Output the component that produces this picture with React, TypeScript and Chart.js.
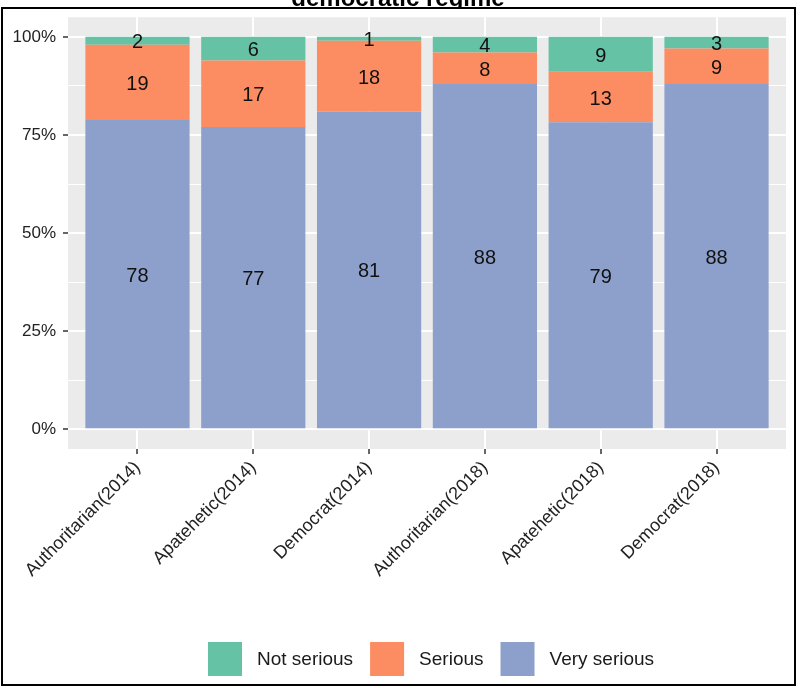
import { useEffect, useRef } from 'react';
import { Chart, registerables } from 'chart.js';

Chart.register(...registerables);

const categories = [
	'Authoritarian(2014)',
	'Apatehetic(2014)',
	'Democrat(2014)',
	'Authoritarian(2018)',
	'Apatehetic(2018)',
	'Democrat(2018)'
];
const verySerious = [78, 77, 81, 88, 79, 88];
const serious = [19, 17, 18, 8, 13, 9];
const notSerious = [2, 6, 1, 4, 9, 3];
const yTicks = [0, 12.5, 25, 37.5, 50, 62.5, 75, 87.5, 100];
const xTicks = [1, 2, 3, 4, 5, 6];
const titleText = 'democratic regime';

const GREEN = '#66C2A5';
const ORANGE = '#FC8D62';
const BLUE = '#8DA0CB';
const FONT = '"Liberation Sans", Arial, sans-serif';

const totals = categories.map((_, i) => verySerious[i] + serious[i] + notSerious[i]);
// share of each bar (position = "fill")
const share = (arr: number[]) => arr.map((v, i) => ({ x: i + 1, y: (v / totals[i]) * 100, raw: v }));

const legendItems = [
	{ label: 'Not serious', color: GREEN },
	{ label: 'Serious', color: ORANGE },
	{ label: 'Very serious', color: BLUE }
];

const decorPlugin = {
	id: 'decor',
	beforeDraw(chart: any) {
		const { ctx, chartArea: a, width, height } = chart;
		ctx.save();
		ctx.fillStyle = '#ffffff';
		ctx.fillRect(0, 0, width, height);
		ctx.fillStyle = '#EBEBEB';
		ctx.fillRect(a.left, a.top, a.right - a.left, a.bottom - a.top);
		ctx.restore();
	},
	afterDatasetsDraw(chart: any) {
		const { ctx } = chart;
		ctx.save();
		ctx.font = `20px ${FONT}`;
		ctx.fillStyle = '#111111';
		ctx.textAlign = 'center';
		ctx.textBaseline = 'middle';
		chart.data.datasets.forEach((ds: any, di: number) => {
			const meta = chart.getDatasetMeta(di);
			meta.data.forEach((el: any, i: number) => {
				const yc = (el.y + el.base) / 2;
				ctx.fillText(String(ds.data[i].raw), el.x, yc + 2);
			});
		});
		ctx.restore();
	},
	afterDraw(chart: any) {
		const { ctx } = chart;
		ctx.save();
		// legend
		ctx.font = `19px ${FONT}`;
		ctx.textBaseline = 'middle';
		ctx.textAlign = 'left';
		let x = 208;
		const top = 642;
		const key = 34;
		legendItems.forEach((it) => {
			ctx.fillStyle = it.color;
			ctx.fillRect(x, top, key, key);
			x += key + 15;
			ctx.fillStyle = '#1a1a1a';
			ctx.fillText(it.label, x, top + key / 2 + 1);
			x += ctx.measureText(it.label).width + 17;
		});
		// title, cut at the top
		ctx.save();
		ctx.beginPath();
		ctx.rect(0, 0, chart.width, 7);
		ctx.clip();
		ctx.font = `bold 24px ${FONT}`;
		ctx.textAlign = 'center';
		ctx.textBaseline = 'alphabetic';
		ctx.fillStyle = '#000';
		ctx.fillText(titleText, 398, 5.5);
		ctx.restore();
		// frame
		ctx.strokeStyle = '#000';
		ctx.lineWidth = 2;
		ctx.strokeRect(2, 8, 793, 677);
		ctx.restore();
	}
};

export default function App() {
	const canvasRef = useRef<HTMLCanvasElement | null>(null);
	const chartRef = useRef<Chart | null>(null);

	useEffect(() => {
		document.body.style.margin = '0';
		if (!canvasRef.current) return;
		if (chartRef.current) chartRef.current.destroy();

		chartRef.current = new Chart(canvasRef.current, {
			type: 'bar',
			data: {
				datasets: [
					{ label: 'Very serious', data: share(verySerious), backgroundColor: BLUE },
					{ label: 'Serious', data: share(serious), backgroundColor: ORANGE },
					{ label: 'Not serious', data: share(notSerious), backgroundColor: GREEN }
				] as any
			},
			options: {
				responsive: true,
				maintainAspectRatio: false,
				animation: false,
				layout: { padding: { left: 0, top: 17, right: 14, bottom: 0 } },
				datasets: { bar: { barPercentage: 0.9, categoryPercentage: 1 } },
				plugins: {
					legend: { display: false },
					tooltip: { enabled: false },
					title: { display: false }
				},
				scales: {
					x: {
						type: 'linear',
						stacked: true,
						offset: false,
						min: 0.4,
						max: 6.6,
						afterBuildTicks: (s: any) => {
							s.ticks = xTicks.map((v) => ({ value: v }));
						},
						afterFit: (s: any) => {
							s.height = 239;
						},
						border: { display: false },
						grid: {
							offset: false,
							color: '#ffffff',
							lineWidth: 2,
							drawTicks: true,
							tickLength: 5,
							tickColor: '#333333',
							tickWidth: 1.5
						},
						ticks: {
							autoSkip: false,
							maxRotation: 45,
							minRotation: 45,
							padding: 3,
							color: '#222222',
							font: { family: FONT, size: 18 },
							callback: (v: any) => categories[Number(v) - 1] ?? ''
						}
					},
					y: {
						stacked: true,
						min: -5,
						max: 105,
						afterBuildTicks: (s: any) => {
							s.ticks = yTicks.map((v) => ({ value: v }));
						},
						afterFit: (s: any) => {
							s.width = 68;
						},
						border: { display: false },
						grid: {
							color: '#ffffff',
							lineWidth: (c: any) => (c.tick && c.tick.value % 25 === 0 ? 2 : 1),
							drawTicks: true,
							tickLength: 5,
							tickColor: (c: any) =>
								c.tick && c.tick.value % 25 === 0 ? '#333333' : 'rgba(0,0,0,0)',
							tickWidth: 1.5
						},
						ticks: {
							autoSkip: false,
							padding: 7,
							color: '#222222',
							font: { family: FONT, size: 17 },
							callback: (v: any) => (Number(v) % 25 === 0 ? `${v}%` : '')
						}
					}
				}
			},
			plugins: [decorPlugin]
		});

		return () => {
			chartRef.current?.destroy();
			chartRef.current = null;
		};
	}, []);

	return (
		<div style={{ width: '800px', height: '688px', position: 'relative' }}>
			<canvas ref={canvasRef} />
		</div>
	);
}
